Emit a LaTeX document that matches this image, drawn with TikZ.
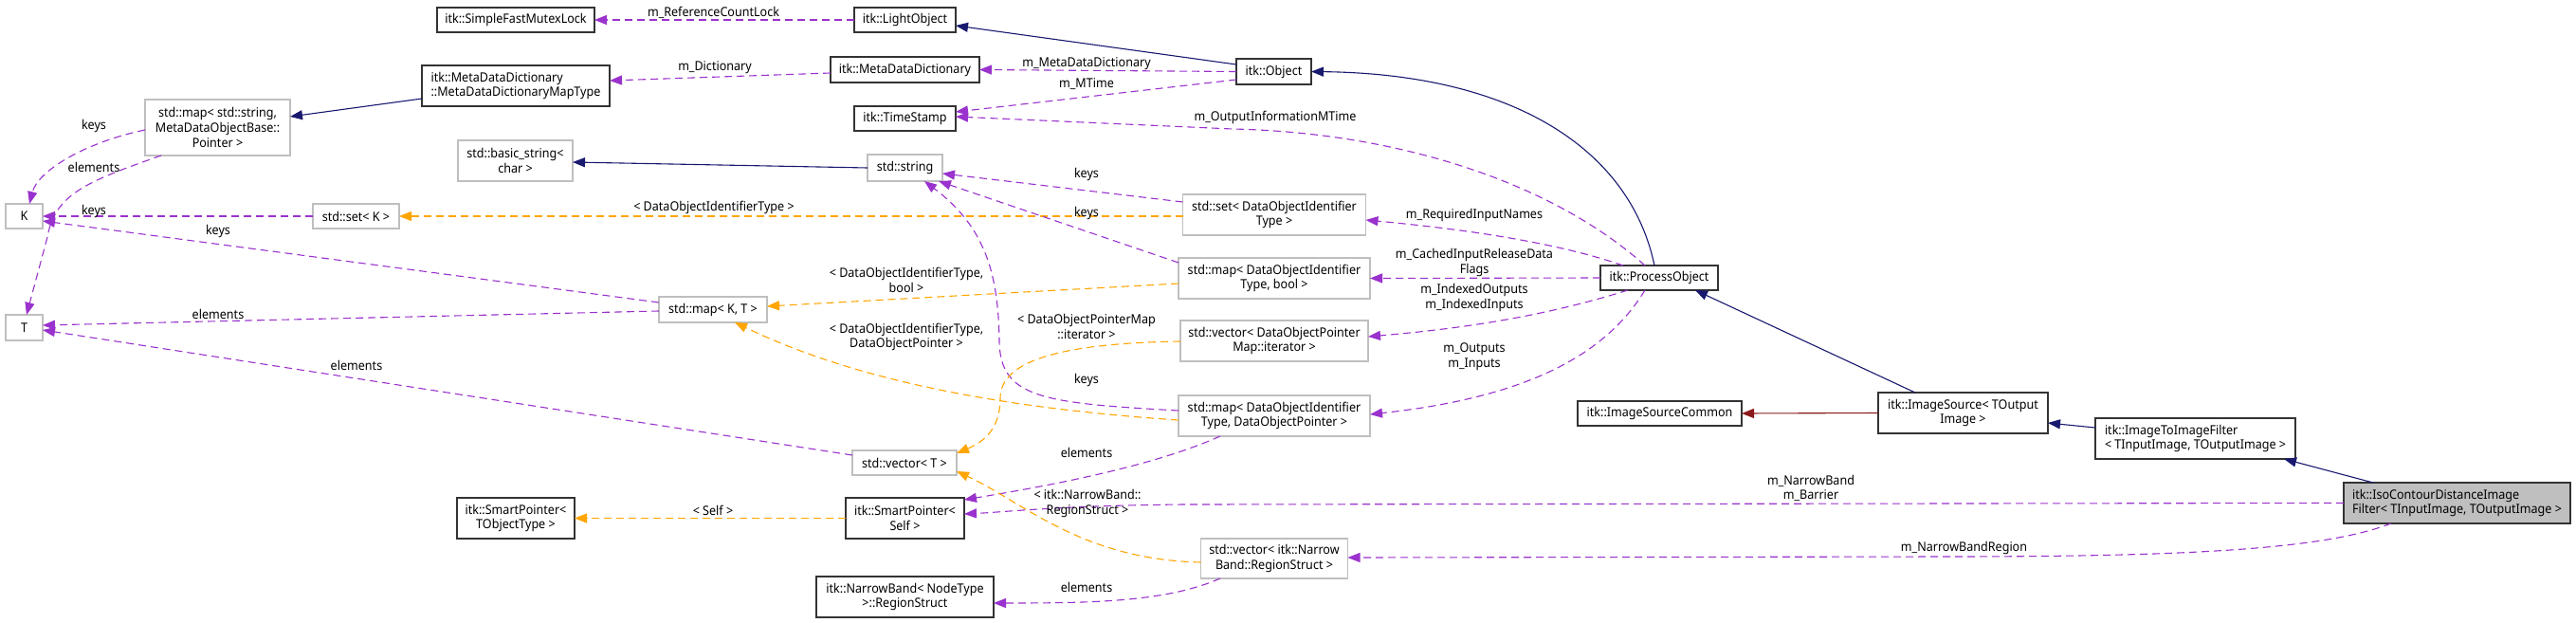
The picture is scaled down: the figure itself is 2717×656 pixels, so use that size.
\documentclass[tikz,border=0pt]{standalone}
\usepackage{fontspec}
\setmainfont{Noto Sans}[FakeStretch=0.93]
\usetikzlibrary{arrows.meta,calc}
\definecolor{navy}{HTML}{191970}
\definecolor{orchid}{HTML}{9A32CD}
\definecolor{tmpl}{HTML}{FFA500}
\definecolor{priv}{HTML}{8B1A1A}
\definecolor{graybd}{HTML}{BFBFBF}
\definecolor{blackbd}{HTML}{333333}
\definecolor{isofill}{HTML}{BFBFBF}
\tikzset{
  txt/.style={font=\fontsize{13.5}{15.8}\selectfont},
  box/.style={txt, draw, rectangle, inner sep=0pt, outer sep=0pt, line width=1.3pt, align=center, fill=white},
  doc/.style={box, draw=blackbd},
  ext/.style={box, draw=graybd},
  lbl/.style={txt, inner sep=0pt, align=center},
  tip/.style={-{Triangle[length=13pt,width=10pt]}},
  inh/.style={tip, draw=navy, line width=1.1pt},
  prv/.style={tip, draw=priv, line width=1.1pt},
  use/.style={tip, draw=orchid, line width=1.1pt, dash pattern=on 8pt off 5pt},
  tpl/.style={tip, draw=tmpl, line width=1.1pt, dash pattern=on 8pt off 5pt},
}
\begin{document}
\begin{tikzpicture}[x=1pt,y=-1pt]
\fill[white] (0,0) rectangle (2717,656);
\useasboundingbox (0,0) rectangle (2717,656);

% ---------- nodes ----------
\node[doc,minimum width=166,minimum height=26] (sfml) at (544,21) {itk::SimpleFastMutexLock};
\node[doc,minimum width=107,minimum height=26] (light) at (954.5,21) {itk::LightObject};
\node[doc,minimum width=198,minimum height=43,align=left] (mddmt) at (544,90.5) {itk::MetaDataDictionary\\::MetaDataDictionaryMapType};
\node[doc,minimum width=157,minimum height=27] (mdd) at (954.5,73.5) {itk::MetaDataDictionary};
\node[doc,minimum width=79,minimum height=27] (obj) at (1343.5,75.5) {itk::Object};
\node[doc,minimum width=107,minimum height=26] (ts) at (954.5,125) {itk::TimeStamp};
\node[ext,minimum width=153,minimum height=59] (mapstr) at (229.5,134.5) {std::map< std::string,\\MetaDataObjectBase::\\Pointer >};
\node[ext,minimum width=121,minimum height=43] (bstr) at (543.5,169.5) {std::basic\_string<\\char >};
\node[ext,minimum width=79,minimum height=28] (str) at (954.5,177) {std::string};
\node[ext,minimum width=39,minimum height=26] (K) at (25.5,228) {K};
\node[ext,minimum width=91,minimum height=26] (setK) at (375.5,228) {std::set< K >};
\node[ext,minimum width=193,minimum height=43] (setDOI) at (1344,226.5) {std::set< DataObjectIdentifier\\Type >};
\node[ext,minimum width=202,minimum height=43] (mapbool) at (1344,293.5) {std::map< DataObjectIdentifier\\Type, bool >};
\node[doc,minimum width=124,minimum height=26] (po) at (1750,293) {itk::ProcessObject};
\node[ext,minimum width=114,minimum height=27] (mapKT) at (752,326.5) {std::map< K, T >};
\node[ext,minimum width=39,minimum height=27] (T) at (25.5,345.5) {T};
\node[ext,minimum width=198,minimum height=43] (vecit) at (1344,359.5) {std::vector< DataObjectPointer\\Map::iterator >};
\node[ext,minimum width=202,minimum height=43] (mapdop) at (1344,438.5) {std::map< DataObjectIdentifier\\Type, DataObjectPointer >};
\node[doc,minimum width=173,minimum height=26] (isc) at (1750.5,436) {itk::ImageSourceCommon};
\node[doc,minimum width=179,minimum height=43] (is) at (2070.5,435.5) {itk::ImageSource< TOutput\\Image >};
\node[doc,minimum width=211,minimum height=43,align=left] (itoi) at (2315.5,462.5) {itk::ImageToImageFilter\\< TInputImage, TOutputImage >};
\node[ext,minimum width=110,minimum height=26] (vecT) at (954,488) {std::vector< T >};
\node[doc,minimum width=124,minimum height=43] (spTO) at (544,546.5) {itk::SmartPointer<\\TObjectType >};
\node[doc,minimum width=125,minimum height=43] (spS) at (954.5,546.5) {itk::SmartPointer<\\Self >};
\node[doc,minimum width=239,minimum height=43,align=left,fill=isofill] (iso) at (2591.5,530.5) {itk::IsoContourDistanceImage\\Filter< TInputImage, TOutputImage >};
\node[ext,minimum width=155,minimum height=42] (vecnb) at (1344,589) {std::vector< itk::Narrow\\Band::RegionStruct >};
\node[doc,minimum width=187,minimum height=43] (nbrs) at (954.5,629.5) {itk::NarrowBand< NodeType\\>::RegionStruct};

% ---------- connectors ----------
\draw[inh] ($(obj.west)+(0,-7.5)$) -- ($(light.east)+(0,6)$);
\draw[use] (light.west) -- (sfml.east);
\draw[use] ($(mdd.west)+(0,3.5)$) -- ($(mddmt.east)+(0,-5.5)$);
\draw[inh] ($(mddmt.west)+(0,13.5)$) -- ($(mapstr.east)+(0,-11.5)$);
\draw[use] (obj.west) -- (mdd.east);
\draw[use] ($(obj.west)+(0,8.5)$) -- ($(ts.east)+(0,-7)$);
\draw[use] ($(po.north)+(-15,0)$) .. controls (1640,195) and (1480,140) .. (1300,136) -- ($(ts.east)+(0,-2)$);
\draw[inh] ($(po.north)+(-5,0)$) .. controls (1720,160) and (1600,78) .. (obj.east);
\draw[inh] (str.west) -- ($(bstr.east)+(0,1.5)$);
\draw[use] ($(mapstr.west)+(0,2.5)$) .. controls (90,150) and (40,180) .. ($(K.north)+(5.5,0)$);
\draw[use] ($(mapstr.south)+(-59.5,0)$) .. controls (90,192) and (58,205) .. (50,250) -- ($(T.north)+(2.5,0)$);
\draw[use] (setK.west) -- (K.east);
\draw[tpl] ($(setDOI.west)+(0,1.5)$) -- (setK.east);
\draw[use] ($(setDOI.west)+(0,-13.5)$) -- ($(str.east)+(0,6)$);
\draw[use] ($(mapbool.west)+(0,-16.5)$) -- ($(str.south east)+(-4,0)$);
\draw[use] ($(mapdop.west)+(0,-5.5)$) .. controls (1100,425) and (1055,420) .. (1054,360) .. controls (1053,290) and (1040,240) .. ($(str.south)+(20.5,0)$);
\draw[use] ($(mapKT.west)+(0,-7.5)$) -- ($(K.east)+(0,5)$);
\draw[use] ($(mapKT.west)+(0,1.5)$) -- ($(T.east)+(0,-2.5)$);
\draw[tpl] ($(mapbool.west)+(0,5.5)$) -- ($(mapKT.east)+(0,-3.5)$);
\draw[tpl] ($(mapdop.west)+(0,4.5)$) .. controls (1050,430) and (900,400) .. ($(mapKT.south)+(23,0)$);
\draw[use] ($(vecT.west)+(0,-8)$) -- ($(T.east)+(0,2.5)$);
\draw[tpl] ($(vecit.west)+(0,0.5)$) .. controls (1120,362) and (1055,380) .. (1055,420) .. controls (1055,450) and (1040,465) .. ($(vecT.east)+(0,-10)$);
\draw[use] ($(po.north)+(-38,0)$) .. controls (1660,262) and (1580,245) .. ($(setDOI.east)+(0,5.5)$);
\draw[use] (po.west) -- (mapbool.east);
\draw[use] ($(po.south)+(-33,0)$) .. controls (1640,330) and (1560,345) .. ($(vecit.east)+(0,-4.5)$);
\draw[use] ($(po.south)+(-15,0)$) .. controls (1690,380) and (1600,420) .. ($(mapdop.east)+(0,-1.5)$);
\draw[inh] ($(is.north)+(-50.5,0)$) -- ($(po.south)+(38,0)$);
\draw[prv] (is.west) -- (isc.east);
\draw[inh] ($(itoi.west)+(0,-11.5)$) -- ($(is.east)+(0,10.5)$);
\draw[inh] ($(iso.north)+(-88.5,0)$) -- ($(itoi.south)+(93.5,0)$);
\draw[use] (iso.west) -- (1250,532) .. controls (1120,533) and (1060,540) .. ($(spS.east)+(0,-4.5)$);
\draw[use] ($(iso.south)+(-69.5,0)$) .. controls (2450,580) and (2300,587) .. (2050,587) -- ($(vecnb.east)+(0,-1)$);
\draw[use] ($(mapdop.south)+(-57,0)$) .. controls (1220,490) and (1120,510) .. ($(spS.east)+(0,-19.5)$);
\draw[tpl] ($(vecnb.west)+(0,4)$) .. controls (1140,590) and (1080,530) .. ($(vecT.east)+(0,9)$);
\draw[use] ($(vecnb.south)+(-57,0)$) .. controls (1230,635) and (1150,636) .. ($(nbrs.east)+(0,6.5)$);
\draw[tpl] (spS.west) -- (spTO.east);

% ---------- labels ----------
\node[lbl] (l1) at (752.5,13) {m\_ReferenceCountLock};
\node[lbl] (l2) at (754,71) {m\_Dictionary};
\node[lbl] (l3) at (1146,67) {m\_MetaDataDictionary};
\node[lbl] (l4) at (1146,89) {m\_MTime};
\node[lbl] (l5) at (1345,124) {m\_OutputInformationMTime};
\node[lbl] (l6) at (99,133) {keys};
\node[lbl] (l7) at (99,176) {elements};
\node[lbl] (l8) at (99,223) {keys};
\node[lbl] (l9) at (230,244) {keys};
\node[lbl] (l10) at (230,331) {elements};
\node[lbl] (l11) at (376,385) {elements};
\node[lbl] (l12) at (753,219) {< DataObjectIdentifierType >};
\node[lbl] (l13) at (1146,184) {keys};
\node[lbl] (l14) at (1146,225) {keys};
\node[lbl] (l15) at (956,295) {< DataObjectIdentifierType,\\bool >};
\node[lbl] (l16) at (956,355.5) {< DataObjectIdentifierType,\\DataObjectPointer >};
\node[lbl] (l17) at (1146,344.5) {< DataObjectPointerMap\\::iterator >};
\node[lbl] (l18) at (1146,401) {keys};
\node[lbl] (l19) at (1146,477) {elements};
\node[lbl] (l20) at (1147,531) {< itk::NarrowBand::\\RegionStruct >};
\node[lbl] (l21) at (1146,619) {elements};
\node[lbl] (l22) at (752,538) {< Self >};
\node[lbl] (l23) at (1555,227) {m\_RequiredInputNames};
\node[lbl] (l24) at (1555,277) {m\_CachedInputReleaseData\\Flags};
\node[lbl] (l25) at (1555,314) {m\_IndexedOutputs\\m\_IndexedInputs};
\node[lbl] (l26) at (1555,376) {m\_Outputs\\m\_Inputs};
\node[lbl] (l27) at (1910,515) {m\_NarrowBand\\m\_Barrier};
\node[lbl] (l28) at (2071.5,578) {m\_NarrowBandRegion};
\end{tikzpicture}
\end{document}
